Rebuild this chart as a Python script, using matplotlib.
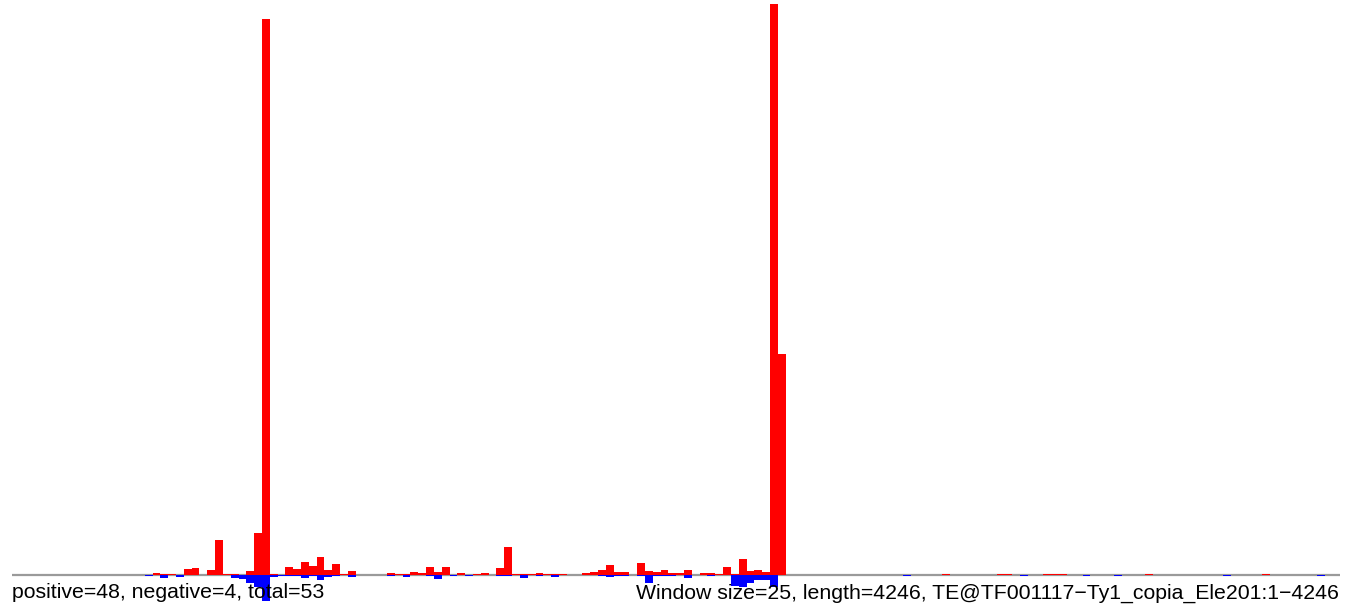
import matplotlib
matplotlib.use("Agg")
import matplotlib.pyplot as plt
import numpy as np

n_bins = 170  # 4246 / 25 windows

# positive (sense) signal per window
pos_bins = [18, 19, 20, 22, 23, 25, 26, 27, 28, 30, 31, 32, 33, 35, 36, 37, 38, 39, 40, 41,
            42, 43, 48, 49, 50, 51, 52, 53, 54, 55, 57, 59, 60, 62, 63, 64, 65, 66, 67, 68,
            69, 70, 73, 74, 75, 76, 77, 78, 80, 81, 82, 83, 84, 85, 86, 88, 89, 90, 91, 92,
            93, 94, 95, 96, 97, 98, 119, 126, 127, 132, 133, 134, 145, 160]
pos_vals = [2, 1, 1, 5.5, 6.5, 4.5, 34.5, 1, 1, 4, 41.5, 555.5, 1, 7.5, 5.5, 12.5, 9, 17.5, 4.5, 10.5,
            1, 3.5, 1.5, 1, 1, 2.5, 1.5, 7.5, 2.5, 7.5, 1.5, 1, 1.5, 6.5, 27.5, 1, 1, 1, 1.5, 1,
            1, 1, 1.5, 3, 5, 10, 3, 3, 12, 4, 3, 5, 2, 2, 5, 2, 2, 1, 8, 1,
            16, 4, 5, 3, 570.5, 220.5, 1, 1, 1, 1, 1, 1, 1, 1]

# negative (antisense) signal per window
neg_bins = [17, 19, 21, 28, 29, 30, 31, 32, 33, 34, 35, 36, 37, 38, 39, 40, 41, 43, 48, 50,
            53, 54, 56, 58, 62, 63, 65, 67, 69, 75, 76, 77, 78, 80, 81, 82, 83, 84, 86, 89,
            92, 93, 94, 95, 96, 97, 114, 129, 137, 141, 155, 167]
neg_vals = [1, 3, 2, 3, 4.5, 8, 12, 26, 2.5, 1.5, 1, 1, 3, 1, 5, 2, 1, 2.5, 1, 2,
            1, 4, 1, 1, 1, 1, 3, 1, 2.5, 1, 2.5, 1, 1, 1, 8.5, 1, 1, 1, 3, 1,
            11, 12.5, 8.5, 5, 5, 12.5, 1, 1, 1, 1, 1, 1]

left_label = "positive=48, negative=4, total=53"
right_label = "Window size=25, length=4246, TE@TF001117\u2212Ty1_copia_Ele201:1\u22124246"

pos = np.zeros(n_bins)
neg = np.zeros(n_bins)
pos[pos_bins] = pos_vals
neg[neg_bins] = neg_vals

plt.rcParams['font.family'] = ['Liberation Sans', 'DejaVu Sans']

W, H = 1352, 613
fig = plt.figure(figsize=(W / 100, H / 100), dpi=100)
x0, bw = 11.9, 7.815
ax = fig.add_axes([x0 / W, 0, n_bins * bw / W, 1])
ax.set_xlim(0, n_bins)
ax.set_ylim(-38.5, 574.5)
ax.axis('off')

x = np.arange(n_bins)
ax.axhline(0, color='#9a9a9a', lw=1.6, zorder=1)
ax.bar(x, pos, width=1.0, align='edge', color='#ff0000', linewidth=0, zorder=2)
ax.bar(x, -neg, width=1.0, align='edge', color='#0000ff', linewidth=0, zorder=2)

fig.text(12 / W, 1 - 593 / H, left_label, ha='left', va='center', fontsize=15.3, color='black')
fig.text(1339 / W, 1 - 593 / H, right_label, ha='right', va='center', fontsize=15.3, color='black')

fig.savefig("out.png", dpi=100)
